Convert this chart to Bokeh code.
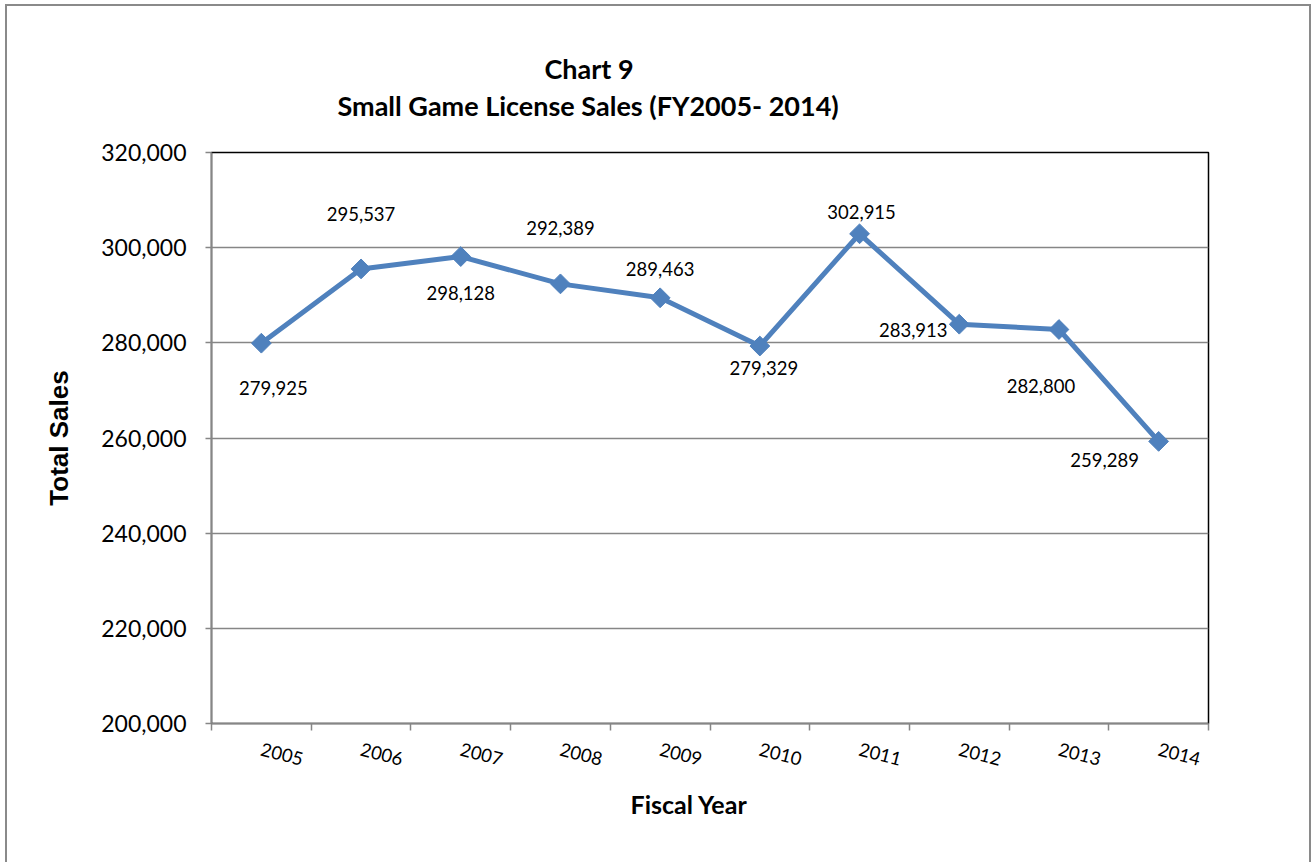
import math
from bokeh.plotting import figure
from bokeh.models import (ColumnDataSource, FixedTicker, NumeralTickFormatter, LabelSet, Range1d, Title)
from bokeh.core.properties import value
from bokeh.embed import file_html
from bokeh.resources import INLINE

# ---- data ----
years = ["2005", "2006", "2007", "2008", "2009", "2010", "2011", "2012", "2013", "2014"]
sales = [279925, 295537, 298128, 292389, 289463, 279329, 302915, 283913, 282800, 259289]
sales_text = ["279,925", "295,537", "298,128", "292,389", "289,463", "279,329", "302,915", "283,913", "282,800", "259,289"]
y_ticks = [200000, 220000, 240000, 260000, 280000, 300000, 320000]

# label offsets in pixels (style/positioning only)
lab_dx = [12, 0, 0, 0, 0, 4, 2, -46, -18, -54]
lab_dy = [-45, 55, -36, 56, 29, -22, 22, -6, -56, -19]

FONT = "Lato"
BLUE = "#4F81BD"
GRAY = "#868686"

xpos = [i + 0.5 for i in range(len(years))]

p = figure(width=1306, height=858, output_backend="svg", toolbar_location=None,
           x_range=Range1d(0, len(years)), y_range=Range1d(200000, 320000),
           min_border_left=204, min_border_right=105, min_border_top=146, min_border_bottom=141)
p.styles = {"margin-left": "5px", "margin-top": "4px",
            "border-top": "2px solid #8a8a8a", "border-left": "2px solid #8a8a8a",
            "border-right": "2px solid #8a8a8a"}
p.outline_line_color = "black"
p.outline_line_width = 1.5
p.background_fill_color = "white"
p.border_fill_color = "white"

# y axis
p.yaxis.ticker = FixedTicker(ticks=y_ticks, minor_ticks=[])
p.yaxis.formatter = NumeralTickFormatter(format="0,0")
p.yaxis.axis_line_color = GRAY
p.yaxis.axis_line_width = 1.5
p.yaxis.major_tick_line_color = GRAY
p.yaxis.major_tick_line_width = 1.5
p.yaxis.major_tick_out = 6
p.yaxis.major_tick_in = 0
p.yaxis.major_label_standoff = 19
p.yaxis.major_label_text_font = FONT
p.yaxis.major_label_text_font_size = "23px"
p.yaxis.major_label_text_color = "black"
p.yaxis.axis_label = "Total Sales"
p.yaxis.axis_label_text_font = "Liberation Sans"
p.yaxis.axis_label_text_font_size = "26px"
p.yaxis.axis_label_text_font_style = "bold"
p.yaxis.axis_label_text_color = "black"
p.yaxis.axis_label_standoff = 24
p.ygrid.ticker = FixedTicker(ticks=y_ticks)
p.ygrid.grid_line_color = GRAY
p.ygrid.grid_line_width = 1.5

# x axis
p.xaxis.ticker = FixedTicker(ticks=xpos, minor_ticks=list(range(len(years) + 1)))
p.xaxis.major_label_overrides = {x: y for x, y in zip(xpos, years)}
p.xaxis.major_label_orientation = -0.25
p.xaxis.major_tick_line_color = None
p.xaxis.major_tick_out = 7
p.xaxis.major_tick_in = 0
p.xaxis.minor_tick_line_color = GRAY
p.xaxis.minor_tick_line_width = 1.5
p.xaxis.minor_tick_out = 7
p.xaxis.minor_tick_in = 0
p.xaxis.axis_line_color = GRAY
p.xaxis.axis_line_width = 1.5
p.xaxis.major_label_standoff = 18
p.xaxis.major_label_text_font = FONT
p.xaxis.major_label_text_font_size = "18.5px"
p.xaxis.major_label_text_color = "black"
p.xgrid.grid_line_color = None

src = ColumnDataSource(dict(x=xpos, y=sales, t=sales_text, dx=lab_dx, dy=lab_dy))
p.line("x", "y", source=src, line_color=BLUE, line_width=5)
p.scatter("x", "y", source=src, marker="square", angle=math.pi / 4, size=14,
          fill_color=BLUE, line_color=BLUE)

labels = LabelSet(x="x", y="y", text="t", source=src, x_offset="dx", y_offset="dy",
                  text_align="center", text_baseline="middle",
                  text_font=value(FONT), text_font_size=value("18.5px"), text_color="black")
p.add_layout(labels)

# titles
t2 = Title(text="Small Game License Sales (FY2005- 2014)", align="left", offset=126,
           text_font=FONT, text_font_size="27px", text_font_style="bold", text_color="black",
           standoff=62)
t1 = Title(text="Chart 9", align="left", offset=333,
           text_font=FONT, text_font_size="27px", text_font_style="bold", text_color="black",
           standoff=-58)
p.add_layout(t2, "above")
p.add_layout(t1, "above")

xt = Title(text="Fiscal Year", align="left", offset=419, standoff=23,
           text_font=FONT, text_font_size="25px", text_font_style="bold", text_color="black")
p.add_layout(xt, "below")

open("out.html", "w").write(file_html(p, INLINE))
